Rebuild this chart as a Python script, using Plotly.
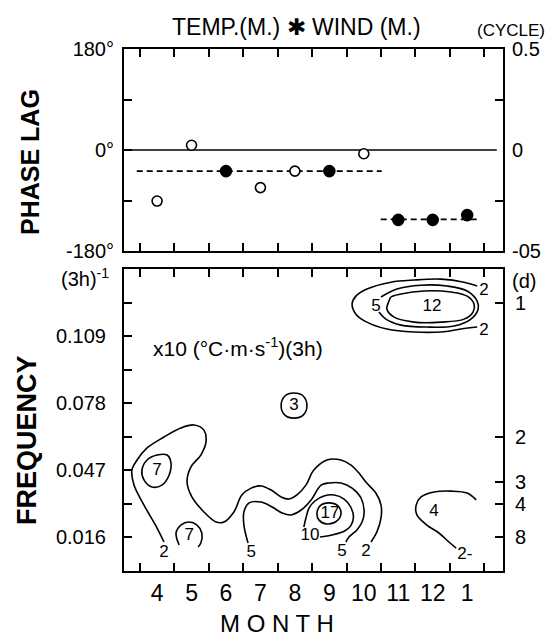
import plotly.graph_objects as go

# ---------------- data: top panel (phase lag) ----------------
months = [4, 5, 6, 7, 8, 9, 10, 11, 12, 13]          # 13 = January (next year)
month_labels = ["4", "5", "6", "7", "8", "9", "10", "11", "12", "1"]
month_bounds = [3.5, 4.5, 5.5, 6.5, 7.5, 8.5, 9.5, 10.5, 11.5, 12.5, 13.5]
phase_deg = [-91, 8.5, -37.6, -67, -37.6, -37.6, -6.7, -124.5, -124.5, -116]
phase_filled = [False, False, True, False, False, True, False, True, True, True]

zero_x = [3.12, 13.86]
zero_y = [0, 0]
mean1_x = [3.41, 10.52]
mean1_y = [-37.6, -37.6]
mean2_x = [10.49, 13.39]
mean2_y = [-123.6, -123.6]

phase_ticks = [180, 0, -180]
phase_ticktext = ["180°", "0°", "-180°"]
phase_minor = [90, -90]
cycle_ticks = [0.5, 0, -0.5]
cycle_ticktext = ["0.5", "0", "-05"]
cycle_minor = [0.25, -0.25]

# ---------------- data: bottom panel (co-spectrum contours) ----------------
freq_ticks = [0.015625, 0.046875, 0.078125, 0.109375]
freq_ticktext = ["0.016", "0.047", "0.078", "0.109"]
freq_minor = [0.03125, 0.0625, 0.09375, 0.125]
period_days = [1, 2, 3, 4, 8]
period_ticktext = ["1", "2", "3", "4", "8"]

c2a_x = [4.20, 4.00, 3.62, 3.33, 3.27, 3.42, 3.71, 4.20, 4.69, 5.07, 5.36, 5.42, 5.27, 4.98, 4.87,
         5.01, 5.36, 5.71, 5.94, 6.23, 6.46, 6.73, 7.02, 7.31, 7.60, 7.83, 8.06, 8.32, 8.55, 8.93,
         9.34, 9.63, 9.86, 10.06, 10.35, 10.50, 10.50, 10.38, 10.21]
c2a_y = [0.0135, 0.0200, 0.0307, 0.0400, 0.0470, 0.0517, 0.0573, 0.0624, 0.0666, 0.0680, 0.0656,
         0.0601, 0.0540, 0.0484, 0.0414, 0.0345, 0.0275, 0.0228, 0.0228, 0.0275, 0.0354, 0.0386,
         0.0396, 0.0377, 0.0345, 0.0335, 0.0354, 0.0400, 0.0470, 0.0517, 0.0517, 0.0493, 0.0456,
         0.0414, 0.0363, 0.0307, 0.0247, 0.0182, 0.0135]

c5a_x = [6.64, 6.52, 6.52, 6.67, 7.02, 7.34, 7.63, 7.89, 8.18, 8.47, 8.76, 8.99, 9.34, 9.66,
         9.92, 10.01, 9.95, 9.80, 9.57, 9.48]
c5a_y = [0.0130, 0.0214, 0.0275, 0.0317, 0.0321, 0.0298, 0.0270, 0.0261, 0.0284, 0.0331, 0.0400,
         0.0410, 0.0410, 0.0386, 0.0340, 0.0275, 0.0228, 0.0191, 0.0158, 0.0135]

c10_x = [8.26, 8.32, 8.41, 8.58, 8.84, 9.14, 9.43, 9.62, 9.70, 9.62, 9.43, 9.08, 8.73]
c10_y = [0.0205, 0.0247, 0.0293, 0.0326, 0.0349, 0.0354, 0.0335, 0.0298, 0.0251, 0.0210,
         0.0185, 0.0168, 0.0158]

c17_x = [8.64, 8.73, 8.99, 9.25, 9.34, 9.22, 8.93, 8.70, 8.64]
c17_y = [0.0265, 0.0303, 0.0317, 0.0303, 0.0270, 0.0233, 0.0219, 0.0237, 0.0265]

c3_x = [7.60, 7.71, 7.97, 8.24, 8.35, 8.24, 7.97, 7.71, 7.60]
c3_y = [0.0768, 0.0815, 0.0829, 0.0815, 0.0768, 0.0726, 0.0712, 0.0726, 0.0768]

c7a_x = [3.71, 4.00, 4.29, 4.40, 4.35, 4.14, 3.85, 3.62, 3.56, 3.71]
c7a_y = [0.0517, 0.0540, 0.0540, 0.0507, 0.0447, 0.0400, 0.0391, 0.0424, 0.0470, 0.0517]

c7b_x = [4.64, 4.55, 4.69, 4.93, 5.16, 5.30, 5.27, 5.19]
c7b_y = [0.0121, 0.0177, 0.0214, 0.0228, 0.0214, 0.0177, 0.0130, 0.0112]

c2b_x = [13.29, 12.91, 12.24, 11.46, 10.79, 10.09, 9.77, 9.66, 9.77, 10.09, 10.67, 11.46, 12.24,
         12.82, 13.29]
c2b_y = [0.1327, 0.1345, 0.1359, 0.1355, 0.1345, 0.1313, 0.1280, 0.1243, 0.1196, 0.1159, 0.1127,
         0.1113, 0.1113, 0.1127, 0.1136]

c5b_x = [10.50, 10.96, 11.66, 12.42, 13.00, 13.29, 13.32, 13.11, 12.62, 11.83, 11.08, 10.64, 10.44]
c5b_y = [0.1276, 0.1313, 0.1331, 0.1327, 0.1304, 0.1257, 0.1220, 0.1173, 0.1141, 0.1136, 0.1145,
         0.1173, 0.1206]

c12_x = [10.79, 11.08, 11.75, 12.53, 13.00, 13.20, 13.17, 12.91, 12.24, 11.46, 10.88, 10.67,
         10.73, 10.79]
c12_y = [0.1276, 0.1290, 0.1304, 0.1299, 0.1280, 0.1243, 0.1206, 0.1173, 0.1159, 0.1159, 0.1182,
         0.1220, 0.1257, 0.1276]

c2c_x = [13.26, 13.00, 12.53, 12.04, 11.66, 11.52, 11.54, 11.83, 12.18, 12.47, 12.68]
c2c_y = [0.0331, 0.0363, 0.0372, 0.0368, 0.0345, 0.0307, 0.0261, 0.0214, 0.0177, 0.0135, 0.0107]

label_text = ["2", "5", "5", "2", "10", "17", "7", "7", "3", "12", "5", "2", "2", "4", "2-"]
label_x = [4.20, 6.73, 9.37, 10.06, 8.44, 9.02, 4.00, 4.93, 7.97, 11.98, 10.35, 13.49, 13.49,
           12.04, 12.93]
label_y = [0.0084, 0.0084, 0.0088, 0.0088, 0.0163, 0.0268, 0.0466, 0.0163, 0.0768, 0.1229,
           0.1229, 0.1304, 0.1117, 0.0275, 0.0074]

# ---------------- figure ----------------
FONT = "Liberation Sans, Arial, sans-serif"
fig = go.Figure()

# top panel
fig.add_trace(go.Scatter(x=zero_x, y=zero_y, mode="lines", line=dict(color="#000000", width=1.5),
                         xaxis="x", yaxis="y", hoverinfo="skip"))
for mx, my in [(mean1_x, mean1_y), (mean2_x, mean2_y)]:
    fig.add_trace(go.Scatter(x=mx, y=my, mode="lines",
                             line=dict(color="#000000", width=1.6, dash="6px,4px"),
                             xaxis="x", yaxis="y", hoverinfo="skip"))
fig.add_trace(go.Scatter(
    x=months, y=phase_deg, mode="markers", xaxis="x", yaxis="y", hoverinfo="skip",
    marker=dict(size=[11 if f else 10 for f in phase_filled],
                color=["#000000" if f else "#ffffff" for f in phase_filled],
                opacity=1, line=dict(color="#000000", width=1.6), symbol="circle")))

# empty traces so the overlaid label axes are drawn
fig.add_trace(go.Scatter(x=[None], y=[None], xaxis="x", yaxis="y3", hoverinfo="skip"))
fig.add_trace(go.Scatter(x=[None], y=[None], xaxis="x3", yaxis="y2", hoverinfo="skip"))
fig.add_trace(go.Scatter(x=[None], y=[None], xaxis="x2", yaxis="y4", hoverinfo="skip"))

# bottom panel contour lines
contours = [(c2a_x, c2a_y), (c5a_x, c5a_y), (c10_x, c10_y), (c17_x, c17_y), (c3_x, c3_y),
            (c7a_x, c7a_y), (c7b_x, c7b_y), (c2b_x, c2b_y), (c5b_x, c5b_y), (c12_x, c12_y),
            (c2c_x, c2c_y)]
for cx, cy in contours:
    fig.add_trace(go.Scatter(x=cx, y=cy, mode="lines", xaxis="x2", yaxis="y2",
                             line=dict(color="#000000", width=1.6, shape="spline", smoothing=1.0),
                             hoverinfo="skip"))
fig.add_trace(go.Scatter(x=label_x, y=label_y, mode="text", text=label_text, xaxis="x2", yaxis="y2",
                         textfont=dict(family=FONT, size=17, color="#000000"), hoverinfo="skip"))

xr = [3.04, 14.04]
line_common = dict(showline=True, linecolor="black", linewidth=2, showgrid=False, zeroline=False)
tick_common = dict(ticks="inside", ticklen=8, tickwidth=2, tickcolor="black")
minor_common = dict(ticks="inside", ticklen=8, tickwidth=2, tickcolor="black", showgrid=False)

fig.update_layout(
    width=559, height=637,
    margin=dict(l=124, r=56, t=49, b=66),
    paper_bgcolor="white", plot_bgcolor="white",
    showlegend=False,
    font=dict(family=FONT, color="black"),
    xaxis=dict(domain=[0, 1], anchor="y", range=xr, tickmode="array", tickvals=month_bounds,
               showticklabels=False, mirror="ticks", **line_common, **tick_common),
    yaxis=dict(domain=[0.613, 1], anchor="x", range=[-180, 180], tickmode="array",
               tickvals=phase_ticks, ticktext=phase_ticktext, mirror=True,
               minor=dict(tickmode="array", tickvals=phase_minor, **minor_common),
               tickfont=dict(size=20), ticklabelstandoff=4, **line_common, **tick_common),
    yaxis3=dict(overlaying="y", anchor="x", side="right", range=[-0.5, 0.5], tickmode="array",
                tickvals=cycle_ticks, ticktext=cycle_ticktext, ticks="inside", ticklen=0,
                minor=dict(tickmode="array", tickvals=cycle_minor, **minor_common),
                showline=False, showgrid=False, zeroline=False, tickfont=dict(size=20),
                ticklabelstandoff=8),
    xaxis2=dict(domain=[0, 1], anchor="y2", range=xr, tickmode="array", tickvals=month_bounds,
                showticklabels=False, mirror="ticks", **line_common, **tick_common),
    xaxis3=dict(overlaying="x2", anchor="y2", side="bottom", range=xr, tickmode="array",
                tickvals=months, ticktext=month_labels, ticks="", showline=False, showgrid=False,
                zeroline=False, tickfont=dict(size=23), ticklabelstandoff=6),
    yaxis2=dict(domain=[0, 0.5785], anchor="x2", range=[0, 0.140625], tickmode="array",
                tickvals=freq_ticks, ticktext=freq_ticktext, mirror=True,
                minor=dict(tickmode="array", tickvals=freq_minor, **minor_common),
                tickfont=dict(size=20), ticklabelstandoff=12, **line_common, **tick_common),
    yaxis4=dict(overlaying="y2", anchor="x2", side="right", range=[0, 0.140625], tickmode="array",
                tickvals=[1 / (8 * d) for d in period_days], ticktext=period_ticktext,
                tickfont=dict(size=20), ticklabelstandoff=6, **line_common, **tick_common),
)

ann = [
    dict(text="TEMP.(M.) ✱ WIND (M.)", x=0.456, y=1.043, font=dict(size=23)),
    dict(text="(CYCLE)", x=1.021, y=1.036, font=dict(size=17)),
    dict(text="<b>PHASE LAG</b>", x=-0.248, y=0.7835, textangle=-90, font=dict(size=25)),
    dict(text="<b>FREQUENCY</b>", x=-0.256, y=0.251, textangle=-90, font=dict(size=27)),
    dict(text="M O N T H", x=0.404, y=-0.1015, font=dict(size=24)),
    dict(text="(d)", x=1.055, y=0.5556, font=dict(size=20)),
    dict(text="(3h)<sup>-1</sup>", x=-0.103, y=0.563, font=dict(size=20)),
    dict(text="x10 (°C·m·s<sup>-1</sup>)(3h)", x=0.0712, y=0.429, xanchor="left", font=dict(size=21)),
]
for a in ann:
    a.setdefault("xanchor", "center")
    fig.add_annotation(xref="paper", yref="paper", showarrow=False, yanchor="middle", **a)

fig.write_html("out.html")
